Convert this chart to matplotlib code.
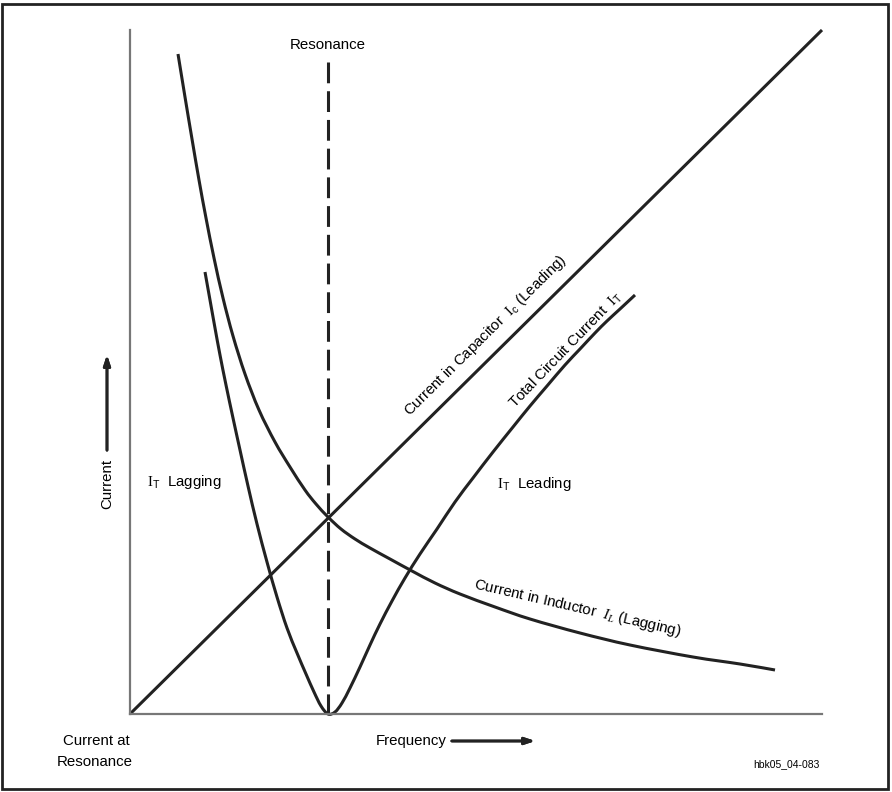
import numpy as np
import matplotlib.pyplot as plt
from matplotlib.patches import Rectangle, PathPatch
from matplotlib.path import Path

plt.rcParams['font.family'] = ['Liberation Sans', 'DejaVu Sans']
plt.rcParams['mathtext.fontset'] = 'custom'
plt.rcParams['mathtext.rm'] = 'Liberation Serif'
plt.rcParams['mathtext.it'] = 'Liberation Serif:italic'
plt.rcParams['mathtext.sf'] = 'Liberation Sans'

# frequency / current in arbitrary units
resonance_freq = 198
resonance_top = 652

cap_freq = [0, 692]
cap_current = [0, 684]

ind_freq = [48, 55, 62, 69, 76, 84, 93, 103, 115, 129, 145, 160, 175, 186, 198, 211,
            225, 240, 260, 282, 305, 330, 365, 400, 450, 500, 563, 610, 645]
ind_current = [660, 617, 575, 534, 496, 456, 416, 378, 340, 304, 272, 247, 224, 210, 197, 185,
               175, 166, 155, 143, 131, 120, 107, 95, 81, 69, 57, 50, 44]

tot_freq = [75, 80, 85, 90, 96, 103, 110, 118, 127, 137, 147, 157, 167, 176, 184, 191, 198,
            205, 212, 220, 230, 240, 250, 262, 275, 290, 307, 325, 343, 363, 383, 400, 417,
            435, 450, 465, 477, 490, 505]
tot_current = [442, 414, 386, 359, 329, 296, 264, 228, 190, 152, 117, 86, 61, 40, 22, 8, 0,
               2, 11, 26, 47, 69, 90, 113, 136, 160, 185, 212, 236, 262, 287, 308, 328,
               349, 365, 381, 393, 405, 419]


def smooth_path(xs, ys):
    # Catmull-Rom through the read points, drawn as cubic Bezier segments
    p = np.column_stack([xs, ys]).astype(float)
    verts = [p[0]]
    codes = [Path.MOVETO]
    for i in range(len(p) - 1):
        p0 = p[i - 1] if i > 0 else p[i]
        p3 = p[i + 2] if i + 2 < len(p) else p[i + 1]
        c1 = p[i] + (p[i + 1] - p0) / 6
        c2 = p[i + 1] - (p3 - p[i]) / 6
        verts += [c1, c2, p[i + 1]]
        codes += [Path.CURVE4] * 3
    return Path(verts, codes)


W, H = 892, 792
fig = plt.figure(figsize=(W / 100, H / 100), dpi=100)
ax = fig.add_axes([130 / W, 78 / H, 692 / W, 684 / H])
ax.set_xlim(0, 692)
ax.set_ylim(0, 684)
ax.set_xticks([])
ax.set_yticks([])
for s in ['top', 'right']:
    ax.spines[s].set_visible(False)
for s in ['left', 'bottom']:
    ax.spines[s].set_color('#777777')
    ax.spines[s].set_linewidth(1.6)

ink = '#222222'
ax.plot(cap_freq, cap_current, color=ink, lw=2.2, solid_capstyle='butt', clip_on=False)
for xs, ys in [(ind_freq, ind_current), (tot_freq, tot_current)]:
    ax.add_patch(PathPatch(smooth_path(xs, ys), fill=False, edgecolor=ink, lw=2.2,
                           capstyle='butt', joinstyle='round', clip_on=False))
ax.plot([resonance_freq, resonance_freq], [resonance_top, 0], color=ink, lw=2.2,
        linestyle=(0, (6.8, 2.6)), dash_capstyle='butt', clip_on=False)


def px(x, y):
    return x / W, 1 - y / H


fs = 10.8
fig.text(*px(328, 45), 'Resonance', ha='center', va='center', fontsize=fs)
fig.text(*px(107, 484), 'Current', rotation=90, ha='center', va='center', fontsize=fs)
fig.text(*px(147, 482), r'$\mathrm{I}_{\mathsf{T}}$  Lagging', ha='left', va='center', fontsize=fs)
fig.text(*px(497, 484), r'$\mathrm{I}_{\mathsf{T}}$  Leading', ha='left', va='center', fontsize=fs)
fig.text(*px(486, 336), r'Current in Capacitor  $\mathrm{I}_{\mathsf{c}}$ (Leading)', rotation=44.7,
         ha='center', va='center', fontsize=fs)
fig.text(*px(566, 350), r'Total Circuit Current  $\mathrm{I}_{\mathsf{T}}$', rotation=46,
         ha='center', va='center', fontsize=fs)
fig.text(*px(578, 608), r'Current in Inductor  $I_{L}$ (Lagging)', rotation=-13,
         ha='center', va='center', fontsize=fs)

narrow = ['Liberation Sans Narrow', 'Liberation Sans']
fig.text(*px(96, 741), 'Current at', ha='center', va='center', fontsize=fs, family=narrow)
fig.text(*px(95, 762), 'Resonance', ha='center', va='center', fontsize=fs, family=narrow)
fig.text(*px(376, 741), 'Frequency', ha='left', va='center', fontsize=fs)
fig.text(*px(820, 764), 'hbk05_04-083', ha='right', va='center', fontsize=7.5, family=narrow)

arrow_kw = dict(arrowstyle='-|>,head_length=0.6,head_width=0.2', color=ink, lw=2)
fig.add_artist(plt.annotate('', xy=px(538, 741), xytext=px(449, 741), xycoords='figure fraction',
                            arrowprops=arrow_kw))
fig.add_artist(plt.annotate('', xy=px(107, 352), xytext=px(107, 453), xycoords='figure fraction',
                            arrowprops=arrow_kw))

fig.add_artist(Rectangle((2 / W, 3 / H), 886 / W, 785 / H, transform=fig.transFigure,
                         fill=False, lw=2, edgecolor=ink))

fig.savefig('out.png', dpi=100)
